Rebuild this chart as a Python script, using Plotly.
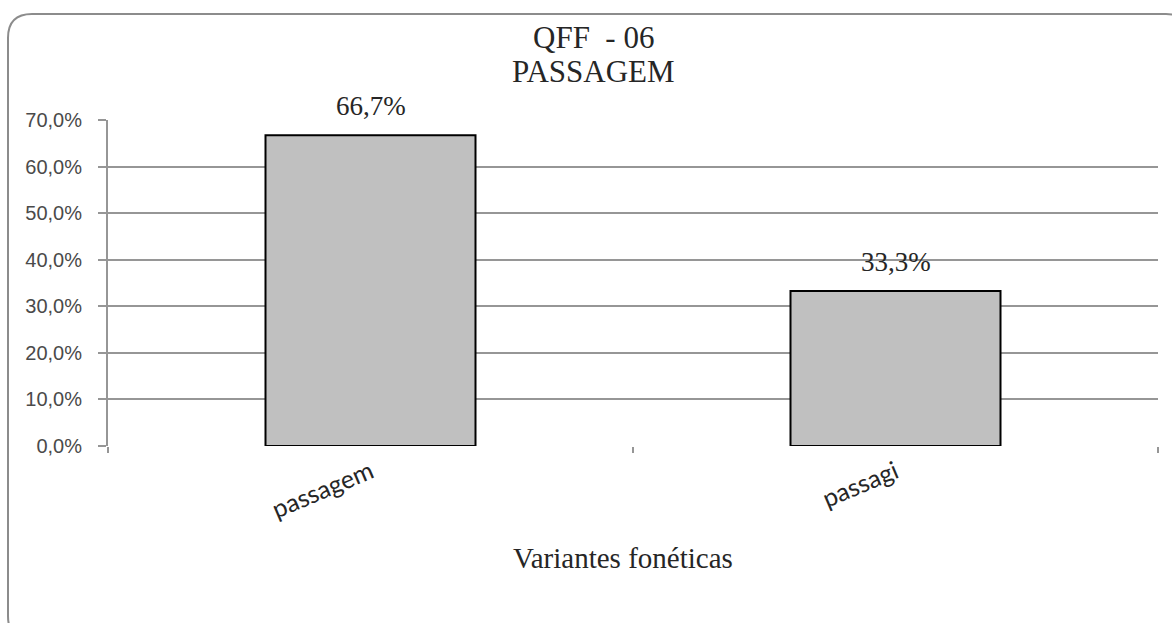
import plotly.graph_objects as go

categories = ["passagem", "passagi"]
values = [66.7, 33.3]
labels = ["66,7%", "33,3%"]
title_lines = ["QFF  - 06", "PASSAGEM"]
x_title = "Variantes fonéticas"
y_ticks = [0, 10, 20, 30, 40, 50, 60, 70]
y_ticktext = [f"{v:.1f}%".replace(".", ",") for v in y_ticks]

W, H = 1172, 623
L, R, T, B = 108, 14, 120, 177
pw, ph = W - L - R, H - T - B

def px(x):
    return (x - L) / pw

def py(y):
    return (H - B - y) / ph

fig = go.Figure()
fig.add_trace(go.Bar(
    x=categories, y=values,
    marker=dict(color="#c0c0c0", line=dict(color="#000000", width=2)),
    width=0.4,
    hoverinfo="skip",
))

for c, v, t in zip(categories, values, labels):
    fig.add_annotation(x=c, y=v, text=t, showarrow=False, yanchor="middle",
                       yshift=29, font=dict(family="Liberation Serif", size=27, color="#262626"))

# rounded chart border (pixel geometry converted to paper coords)
x0, y0, x1, y1, r = 8, 14, 1190, 640, 24
path = (f"M {px(x0+r)},{py(y0)} L {px(x1-r)},{py(y0)} "
        f"Q {px(x1)},{py(y0)} {px(x1)},{py(y0+r)} L {px(x1)},{py(y1-r)} "
        f"Q {px(x1)},{py(y1)} {px(x1-r)},{py(y1)} L {px(x0+r)},{py(y1)} "
        f"Q {px(x0)},{py(y1)} {px(x0)},{py(y1-r)} L {px(x0)},{py(y0+r)} "
        f"Q {px(x0)},{py(y0)} {px(x0+r)},{py(y0)} Z")
fig.add_shape(type="path", path=path, xref="paper", yref="paper",
              line=dict(color="#8c8c8c", width=2), layer="below")

for line_text, cy in zip(title_lines, [38, 72]):
    fig.add_annotation(x=px(593), y=py(cy), xref="paper", yref="paper", text=line_text,
                       showarrow=False, xanchor="center", yanchor="middle",
                       font=dict(family="Liberation Serif", size=31, color="#262626"))

fig.add_annotation(x=px(623), y=py(558), xref="paper", yref="paper", text=x_title,
                   showarrow=False, xanchor="center", yanchor="middle",
                   font=dict(family="Liberation Serif", size=29, color="#262626"))

fig.update_layout(
    width=W, height=H,
    margin=dict(l=L, r=R, t=T, b=B),
    paper_bgcolor="white", plot_bgcolor="white",
    showlegend=False,
)

fig.update_yaxes(range=[0, 70], tickvals=y_ticks, ticktext=y_ticktext,
                 showgrid=True, gridcolor="#969696", gridwidth=2,
                 showline=True, linecolor="#969696", linewidth=2,
                 ticks="outside", ticklen=8, tickwidth=2, tickcolor="#969696",
                 ticklabelstandoff=12, zeroline=False,
                 tickfont=dict(family="Liberation Sans", size=20, color="#4a4a4a"))
fig.update_xaxes(showline=False, ticks="outside", tickson="boundaries", ticklen=6,
                 tickwidth=2, tickcolor="#969696", tickangle=-23, showgrid=False,
                 ticklabelstandoff=6,
                 tickfont=dict(family="Lato", size=25, color="#262626"))

fig.write_html("out.html", config={"displayModeBar": False})

with open("out.html", "r", encoding="utf-8") as f:
    html = f.read()
html = html.replace("<head>", "<head><style>html,body{margin:0;padding:0;}</style>", 1)
with open("out.html", "w", encoding="utf-8") as f:
    f.write(html)
